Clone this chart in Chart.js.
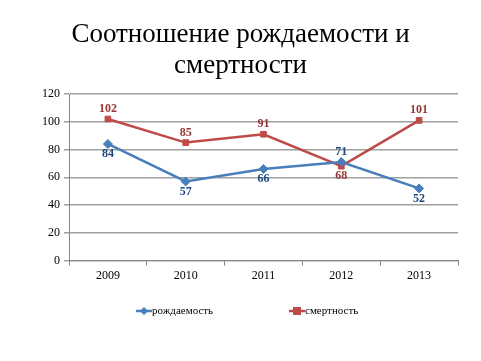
<!DOCTYPE html>
<html>
<head>
<meta charset="utf-8">
<script src="https://cdn.jsdelivr.net/npm/chart.js@4"></script>
<style>
  html, body { margin: 0; padding: 0; background: #fff; }
  #wrap { width: 481px; height: 361px; position: relative; }
</style>
</head>
<body>
<div id="wrap"><canvas id="chart" width="481" height="361"></canvas></div>
<script>
// Данные графика
const titleLines = ['Соотношение рождаемости и', 'смертности'];
const years = ['2009', '2010', '2011', '2012', '2013'];
const birthRate = [84, 57, 66, 71, 52];
const deathRate = [102, 85, 91, 68, 101];
const yTicks = [0, 20, 40, 60, 80, 100, 120];
// положение подписи: 'below' или 'above'
const birthLabelPos = ['below', 'below', 'below', 'above', 'below'];
const deathLabelPos = ['above', 'above', 'above', 'below', 'above'];

const serif = '"Liberation Serif", "Times New Roman", serif';
const blue = '#4a7ebb';
const red = '#be4b48';

// заголовок по центру всего холста
const centeredTitle = {
    id: 'centeredTitle',
    afterDraw(chart) {
        const ctx = chart.ctx;
        ctx.save();
        ctx.font = '27px ' + serif;
        ctx.fillStyle = '#000';
        ctx.textAlign = 'center';
        ctx.textBaseline = 'alphabetic';
        ctx.fillText(titleLines[0], chart.width / 2, 42);
        ctx.fillText(titleLines[1], chart.width / 2, 73);
        ctx.restore();
    }
};

// подписи значений
const valueLabels = {
    id: 'valueLabels',
    afterDatasetsDraw(chart) {
        const ctx = chart.ctx;
        ctx.save();
        ctx.font = 'bold 12px ' + serif;
        ctx.textAlign = 'center';
        chart.data.datasets.forEach((ds, i) => {
            const meta = chart.getDatasetMeta(i);
            meta.data.forEach((pt, j) => {
                ctx.fillStyle = ds.labelColor;
                if (ds.labelPos[j] === 'above') {
                    ctx.textBaseline = 'bottom';
                    ctx.fillText(ds.data[j], pt.x, pt.y - 4);
                } else {
                    ctx.textBaseline = 'top';
                    ctx.fillText(ds.data[j], pt.x, pt.y + 4);
                }
            });
        });
        ctx.restore();
    }
};

// легенда внизу: линия с маркером и подпись
const bottomLegend = {
    id: 'bottomLegend',
    afterDraw(chart) {
        const ctx = chart.ctx;
        const y = 311;
        const items = [
            { x: 136, color: blue, shape: 'diamond', text: chart.data.datasets[0].label },
            { x: 289, color: red, shape: 'square', text: chart.data.datasets[1].label }
        ];
        ctx.save();
        ctx.font = '11px ' + serif;
        ctx.textBaseline = 'middle';
        ctx.textAlign = 'left';
        items.forEach(it => {
            ctx.strokeStyle = it.color;
            ctx.fillStyle = it.color;
            ctx.lineWidth = 2.5;
            ctx.beginPath(); ctx.moveTo(it.x, y); ctx.lineTo(it.x + 16, y); ctx.stroke();
            const cx = it.x + 8;
            if (it.shape === 'diamond') {
                ctx.beginPath();
                ctx.moveTo(cx, y - 4); ctx.lineTo(cx + 4, y); ctx.lineTo(cx, y + 4); ctx.lineTo(cx - 4, y);
                ctx.closePath(); ctx.fill();
            } else {
                ctx.fillRect(cx - 4, y - 4, 8, 8);
            }
            ctx.fillStyle = '#000';
            ctx.fillText(it.text, it.x + 16, y);
        });
        ctx.restore();
    }
};

const ctx = document.getElementById('chart').getContext('2d');
new Chart(ctx, {
    type: 'line',
    data: {
        labels: years,
        datasets: [{
            label: 'рождаемость',
            data: birthRate,
            borderColor: blue,
            backgroundColor: blue,
            borderWidth: 2.5,
            pointStyle: 'rectRot',
            pointRadius: 4.5,
            pointBorderWidth: 1,
            tension: 0,
            labelColor: '#1f497d',
            labelPos: birthLabelPos
        }, {
            label: 'смертность',
            data: deathRate,
            borderColor: red,
            backgroundColor: red,
            borderWidth: 2.5,
            pointStyle: 'rect',
            pointRadius: 4,
            pointBorderWidth: 1,
            tension: 0,
            labelColor: '#953735',
            labelPos: deathLabelPos
        }]
    },
    options: {
        responsive: false,
        animation: false,
        layout: { padding: { left: 38, right: 23, top: 94, bottom: 75 } },
        plugins: {
            title: { display: false },
            legend: { display: false },
            tooltip: { enabled: false }
        },
        scales: {
            x: {
                offset: true,
                grid: { display: true, drawOnChartArea: false, drawTicks: true, tickLength: 5, offset: true, color: '#868686' },
                border: { color: '#868686' },
                ticks: { font: { family: serif, size: 12 }, color: '#000', padding: 3 }
            },
            y: {
                min: 0,
                max: 120,
                afterBuildTicks(axis) { axis.ticks = yTicks.map(v => ({ value: v })); },
                grid: { color: '#a0a0a0', tickLength: 5, lineWidth: 1.5 },
                border: { color: '#868686' },
                ticks: { font: { family: serif, size: 12 }, color: '#000', padding: 4 }
            }
        }
    },
    plugins: [valueLabels, bottomLegend, centeredTitle]
});
</script>
</body>
</html>
